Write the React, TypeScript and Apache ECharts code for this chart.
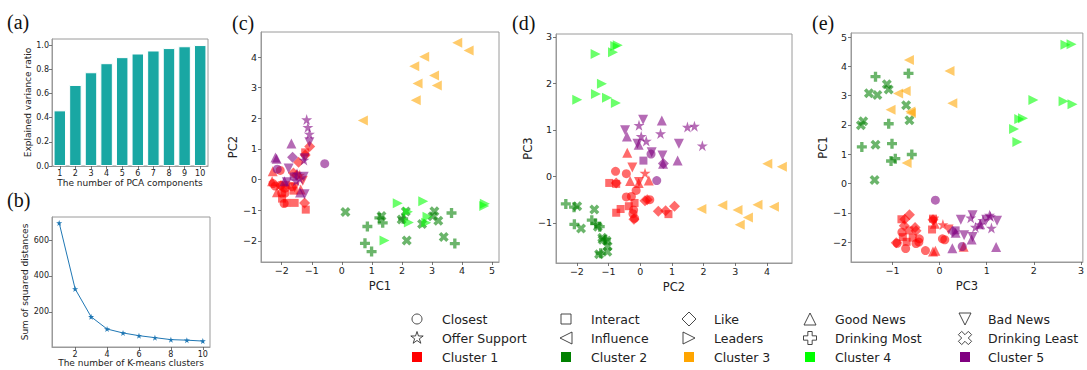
import React, { useEffect, useRef } from "react";
import * as echarts from "echarts";

// ---------------- data ----------------
const pcaComponents = ["1", "2", "3", "4", "5", "6", "7", "8", "9", "10"];
const explainedVarianceRatio = [0.46, 0.67, 0.775, 0.85, 0.9, 0.93, 0.955, 0.975, 0.99, 1.0];
const kMeansClusters = [1, 2, 3, 4, 5, 6, 7, 8, 9, 10];
const sumSquaredDistances = [695, 328, 173, 105, 83, 68, 57, 46, 43, 38];

const ticksA = [0, 0.2, 0.4, 0.6, 0.8, 1.0];
const ticksBX = [2, 4, 6, 8, 10];
const ticksBY = [200, 400, 600];
const ticksCX = [-2, -1, 0, 1, 2, 3, 4, 5];
const ticksCY = [-2, -1, 0, 1, 2, 3, 4];
const ticksDX = [-2, -1, 0, 1, 2, 3, 4];
const ticksDY = [-1, 0, 1, 2, 3];
const ticksEX = [-1, 0, 1, 2, 3];
const ticksEY = [-2, -1, 0, 1, 2, 3, 4, 5];

// [PC1, PC2, PC3, marker]
type Pt = [number, number, number, string];

const cluster1: Pt[] = [
  [-2.16, -0.41, 0.51, "good"],
  [-1.57, -0.25, 0.19, "bad"],
  [-1.92, -0.78, 0.11, "closest"],
  [-1.89, -0.44, 0.06, "closest"],
  [-1.4, 0.15, 0.07, "support"],
  [-2.3, 0.27, -0.09, "good"],
  [-2.32, -0.05, -0.14, "good"],
  [-1.37, -0.32, -0.1, "good"],
  [-1.3, -0.04, -0.12, "bad"],
  [-1.2, -0.98, -0.14, "interact"],
  [-1.24, -0.76, -0.14, "like"],
  [-2.29, -0.13, -0.3, "closest"],
  [-2.0, -0.44, -0.44, "closest"],
  [-1.89, -0.28, -0.43, "closest"],
  [-1.61, 0.22, -0.5, "like"],
  [-1.5, 0.15, -0.52, "like"],
  [-2.05, 0.3, -0.5, "closest"],
  [-1.85, -0.18, -0.57, "interact"],
  [-1.07, 1.08, -0.64, "like"],
  [-1.6, -0.36, -0.64, "interact"],
  [-1.99, -0.62, -0.7, "interact"],
  [-2.22, -0.21, -0.72, "closest"],
  [-1.44, 0.57, -0.75, "like"],
  [-1.83, -0.76, -0.78, "interact"],
  [-1.66, -0.23, -0.8, "closest"],
  [-1.22, 0.89, -0.81, "interact"],
  [-2.04, -0.18, -0.9, "closest"],
  [-2.02, -0.2, -0.92, "like"],
  [-1.57, -0.76, -0.16, "interact"],
  [-1.22, 0.8, -0.74, "like"],
];

const cluster2: Pt[] = [
  [0.12, -1.06, -1.38, "least"],
  [0.77, -2.08, -1.03, "most"],
  [0.85, -1.53, -0.94, "most"],
  [0.99, -2.35, -0.59, "most"],
  [1.25, -1.25, -1.65, "most"],
  [1.32, -1.19, -1.36, "least"],
  [1.36, -1.41, -1.01, "most"],
  [1.99, -1.3, -1.67, "least"],
  [2.04, -1.28, -1.08, "most"],
  [2.13, -1.04, -1.62, "least"],
  [2.16, -1.99, -0.64, "least"],
  [2.67, -1.45, -0.71, "least"],
  [3.02, -1.2, -1.32, "least"],
  [3.08, -1.03, -1.5, "least"],
  [3.21, -1.34, -1.08, "least"],
  [3.39, -1.87, -1.12, "least"],
  [3.65, -1.09, -1.36, "most"],
  [3.76, -2.09, -0.66, "most"],
];

const cluster3: Pt[] = [
  [0.7, 1.93, -0.7, "influence"],
  [2.46, 2.59, -0.62, "influence"],
  [3.16, 3.07, -0.72, "influence"],
  [2.52, 3.14, -1.04, "influence"],
  [3.07, 3.4, -0.88, "influence"],
  [2.41, 3.7, -0.61, "influence"],
  [2.74, 4.01, 0.27, "influence"],
  [4.22, 4.22, -0.65, "influence"],
  [3.84, 4.47, 0.21, "influence"],
];

const cluster4: Pt[] = [
  [4.76, -0.79, 2.8, "leaders"],
  [2.71, -0.71, 2.82, "leaders"],
  [4.74, -0.86, 2.67, "leaders"],
  [2.81, -1.41, 2.63, "leaders"],
  [2.85, -1.21, 1.99, "leaders"],
  [1.42, -1.99, 1.65, "leaders"],
  [2.23, -1.4, 1.77, "leaders"],
  [2.2, -1.05, 1.69, "leaders"],
  [1.86, -0.77, 1.58, "leaders"],
];

const cluster5: Pt[] = [
  [-0.57, 0.52, -0.09, "closest"],
  [-1.17, 1.96, 0.66, "support"],
  [-1.13, 1.71, 1.08, "support"],
  [-1.08, 1.49, 1.06, "support"],
  [-1.08, 1.22, 0.7, "bad"],
  [-1.68, 1.18, 0.34, "good"],
  [-2.17, 0.68, 1.2, "good"],
  [-1.39, -0.42, 0.86, "good"],
  [-1.64, 0.73, 0.28, "like"],
  [-2.15, 0.34, 0.48, "closest"],
  [-1.6, 0.1, 0.34, "interact"],
  [-2.21, 0.72, 0.27, "good"],
  [-1.77, 0.36, 0.52, "bad"],
  [-1.83, -0.09, 0.7, "bad"],
  [-1.91, -0.05, 0.68, "good"],
  [-1.27, 0.09, 1.22, "bad"],
  [-1.24, 0.7, 0.45, "bad"],
  [-1.24, -0.48, 0.99, "bad"],
  [-1.52, -0.04, 1.1, "support"],
  [-1.26, 0.64, 0.92, "support"],
  [-1.4, 0.03, 0.86, "support"],
  [-1.49, 0.19, 0.76, "support"],
];

const clusterNames = ["Cluster 1", "Cluster 2", "Cluster 3", "Cluster 4", "Cluster 5"];
const clusterColors = ["#ff0000", "#008000", "#ffa500", "#00ff00", "#800080"];
const clusters = [cluster1, cluster2, cluster3, cluster4, cluster5];

const markerRows = [
  ["closest", "interact", "like", "good", "bad"],
  ["support", "influence", "leaders", "most", "least"],
];
const markerLabels: Record<string, string> = {
  closest: "Closest",
  interact: "Interact",
  like: "Like",
  good: "Good News",
  bad: "Bad News",
  support: "Offer Support",
  influence: "Influence",
  leaders: "Leaders",
  most: "Drinking Most",
  least: "Drinking Least",
};

// ---------------- shapes ----------------
const plusPts = [
  [1 / 3, -1], [1 / 3, -1 / 3], [1, -1 / 3], [1, 1 / 3], [1 / 3, 1 / 3], [1 / 3, 1],
  [-1 / 3, 1], [-1 / 3, 1 / 3], [-1, 1 / 3], [-1, -1 / 3], [-1 / 3, -1 / 3], [-1 / 3, -1],
];
const crossPts = plusPts.map(([x, y]) => [(x - y) / Math.SQRT2, (x + y) / Math.SQRT2]);
const SHAPES: Record<string, number[][]> = {
  good: [[0, -1], [1, 1], [-1, 1]],
  bad: [[0, 1], [1, -1], [-1, -1]],
  influence: [[-1, 0], [1, -1], [1, 1]],
  leaders: [[1, 0], [-1, -1], [-1, 1]],
  like: [[0, -1], [1, 0], [0, 1], [-1, 0]],
  support: [
    [0, -1], [0.2245, -0.309], [0.951, -0.309], [0.363, 0.118], [0.588, 0.809],
    [0, 0.382], [-0.588, 0.809], [-0.363, 0.118], [-0.951, -0.309], [-0.2245, -0.309],
  ],
  most: plusPts,
  least: crossPts,
};
const toPath = (pts: number[][]) =>
  "path://M" + pts.map(([x, y]) => `${((x + 1) * 50).toFixed(2)},${((y + 1) * 50).toFixed(2)}`).join("L") + "Z";

const SYMBOL: Record<string, string> = {
  closest: "circle",
  interact: "rect",
  like: "diamond",
  good: toPath(SHAPES.good),
  bad: toPath(SHAPES.bad),
  support: toPath(SHAPES.support),
  influence: toPath(SHAPES.influence),
  leaders: toPath(SHAPES.leaders),
  most: toPath(SHAPES.most),
  least: toPath(SHAPES.least),
};
const SIZE: Record<string, number> = {
  closest: 9, interact: 8, like: 11, good: 10, bad: 10, support: 11,
  influence: 10, leaders: 10, most: 10, least: 10,
};

// ---------------- helpers ----------------
const FONT = "DejaVu Sans";
const FRAME = "#9a9a9a";
const TEXT = "#222";
const minusFmt = (v: number) => (v < 0 ? "\u2212" + Math.abs(v) : String(v));

function valueAxis(
  gridIndex: number, pos: "bottom" | "left", min: number, max: number, ticks: number[],
  fmt: (v: number) => string, name: string, nameGap: number, fontSize: number,
  nameSize: number, margin: number
) {
  return {
    type: "value", gridIndex, position: pos, min, max,
    name, nameLocation: "middle", nameGap,
    nameTextStyle: { fontFamily: FONT, fontSize: nameSize, color: TEXT },
    axisLine: { show: true, onZero: false, lineStyle: { color: FRAME, width: 1 } },
    axisTick: { show: true, inside: false, length: 3, lineStyle: { color: "#555", width: 0.8 }, customValues: ticks },
    axisLabel: { show: true, customValues: ticks, formatter: fmt, fontFamily: FONT, fontSize, color: TEXT, margin },
    splitLine: { show: false },
  };
}

function buildOption() {
  const grids = [
    { left: 52, top: 39, width: 156, height: 127 },
    { left: 52, top: 217, width: 158, height: 130 },
    { left: 261, top: 32, width: 238, height: 230 },
    { left: 556, top: 34, width: 236, height: 229 },
    { left: 851, top: 33, width: 235, height: 229 },
  ].map((g) => ({ ...g, show: true, borderColor: FRAME, borderWidth: 1, backgroundColor: "transparent" }));

  const xAxis: any[] = [
    {
      type: "category", gridIndex: 0, data: pcaComponents, boundaryGap: true, position: "bottom",
      name: "The number of PCA components", nameLocation: "middle", nameGap: 12,
      nameTextStyle: { fontFamily: FONT, fontSize: 9, color: TEXT },
      axisLine: { show: true, lineStyle: { color: FRAME } },
      axisTick: { show: true, alignWithLabel: true, length: 3, lineStyle: { color: "#555", width: 0.8 } },
      axisLabel: { fontFamily: FONT, fontSize: 8, color: TEXT, margin: 3, interval: 0 },
      splitLine: { show: false },
    },
    valueAxis(1, "bottom", 0.55, 10.45, ticksBX, minusFmt, "The number of K-means clusters", 11, 8, 9, 3),
    valueAxis(2, "bottom", -2.69, 5.23, ticksCX, minusFmt, "PC1", 14, 9.5, 11.5, 3),
    valueAxis(3, "bottom", -2.66, 4.79, ticksDX, minusFmt, "PC2", 13, 9.5, 11.5, 3),
    valueAxis(4, "bottom", -1.88, 3.04, ticksEX, minusFmt, "PC3", 14, 9.5, 11.5, 3),
  ];
  const yAxis: any[] = [
    valueAxis(0, "left", 0, 1.05, ticksA, (v: number) => v.toFixed(1), "Explained variance ratio", 20, 8, 9, 3),
    valueAxis(1, "left", 5, 728, ticksBY, minusFmt, "Sum of squared distances", 20, 8, 9, 3),
    valueAxis(2, "left", -2.69, 4.82, ticksCY, minusFmt, "PC2", 17, 9.5, 11.5, 4),
    valueAxis(3, "left", -1.86, 3.06, ticksDY, minusFmt, "PC3", 18, 9.5, 11.5, 4),
    valueAxis(4, "left", -2.68, 5.14, ticksEY, minusFmt, "PC1", 18, 9.5, 11.5, 4),
  ];

  const series: any[] = [
    {
      type: "bar", xAxisIndex: 0, yAxisIndex: 0, data: explainedVarianceRatio, barWidth: "80%",
      itemStyle: { color: "#19a7a3", borderColor: "#ffffff", borderWidth: 1 }, silent: true,
    },
    {
      type: "line", xAxisIndex: 1, yAxisIndex: 1,
      data: kMeansClusters.map((k, i) => [k, sumSquaredDistances[i]]),
      symbol: SYMBOL.support, symbolSize: 6, showSymbol: true,
      lineStyle: { color: "#1f77b4", width: 1 }, itemStyle: { color: "#1f77b4" }, silent: true,
    },
  ];

  const panels = [
    { grid: 2, xi: 0, yi: 1 },
    { grid: 3, xi: 1, yi: 2 },
    { grid: 4, xi: 2, yi: 0 },
  ];
  panels.forEach((p) => {
    clusters.forEach((pts, ci) => {
      series.push({
        type: "scatter", xAxisIndex: p.grid, yAxisIndex: p.grid, silent: true,
        itemStyle: { color: clusterColors[ci], opacity: 0.58 },
        data: pts.map((d) => ({ value: [d[p.xi], d[p.yi]], symbol: SYMBOL[d[3]], symbolSize: SIZE[d[3]] })),
      });
    });
  });

  // ----- graphic: panel labels + legend -----
  const graphic: any[] = [];
  const labels = [
    { t: "(a)", x: 7, y: 22 },
    { t: "(b)", x: 7, y: 200 },
    { t: "(c)", x: 232, y: 23 },
    { t: "(d)", x: 512, y: 23 },
    { t: "(e)", x: 812, y: 23 },
  ];
  labels.forEach((l) =>
    graphic.push({
      type: "text", x: l.x, y: l.y,
      style: { text: l.t, fontFamily: "Liberation Serif", fontSize: 20, fill: "#111", verticalAlign: "middle", align: "left" },
    })
  );

  const iconX = [417, 566, 689, 810, 965];
  const textX = [442, 591, 714, 835, 988];
  const rowY = [319, 338, 357];
  const outline = { fill: "none", stroke: "#333", lineWidth: 0.9 };
  const legendR: Record<string, number> = {
    good: 6, bad: 6, influence: 6, leaders: 6, like: 7, support: 6.5, most: 6.5, least: 7,
  };
  markerRows.forEach((row, r) => {
    row.forEach((m, c) => {
      const cx = iconX[c];
      const cy = rowY[r];
      if (m === "closest") {
        graphic.push({ type: "circle", shape: { cx, cy, r: 5 }, style: outline });
      } else if (m === "interact") {
        graphic.push({ type: "rect", shape: { x: cx - 5, y: cy - 5, width: 10, height: 10 }, style: outline });
      } else {
        const rr = legendR[m];
        graphic.push({
          type: "polygon",
          shape: { points: SHAPES[m].map(([x, y]) => [cx + x * rr, cy + y * rr]) },
          style: outline,
        });
      }
      graphic.push({
        type: "text", x: textX[c], y: cy,
        style: { text: markerLabels[m], fontFamily: FONT, fontSize: 12.5, fill: TEXT, verticalAlign: "middle", align: "left" },
      });
    });
  });
  clusterNames.forEach((name, c) => {
    const cx = iconX[c];
    const cy = rowY[2];
    graphic.push({
      type: "rect", shape: { x: cx - 5, y: cy - 5, width: 10, height: 10 },
      style: { fill: clusterColors[c] },
    });
    graphic.push({
      type: "text", x: textX[c], y: cy,
      style: { text: name, fontFamily: FONT, fontSize: 12.5, fill: TEXT, verticalAlign: "middle", align: "left" },
    });
  });

  return {
    animation: false,
    backgroundColor: "#ffffff",
    grid: grids,
    xAxis,
    yAxis,
    series,
    graphic,
  };
}

export default function App() {
  const ref = useRef<HTMLDivElement>(null);
  useEffect(() => {
    if (!ref.current) return;
    const chart = echarts.init(ref.current, null, { renderer: "svg" });
    chart.setOption(buildOption() as any);
    return () => chart.dispose();
  }, []);
  return (
    <div
      ref={ref}
      style={{ position: "fixed", left: 0, top: 0, width: 1087, height: 370, background: "#fff" }}
    />
  );
}
